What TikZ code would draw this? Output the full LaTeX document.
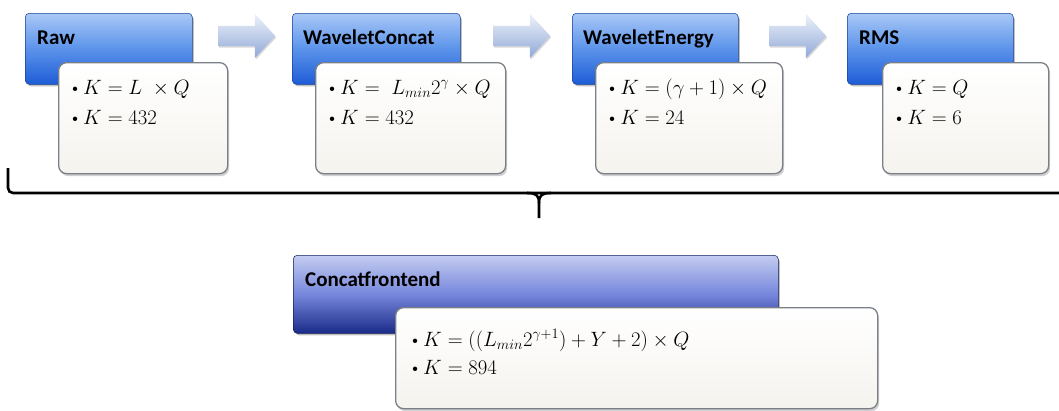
\documentclass[tikz,border=0pt]{standalone}
\usepackage{fontspec}
\newfontfamily\hdrfont{Carlito}
\usetikzlibrary{shapes.arrows,shadows,calc}
\definecolor{htop}{HTML}{A9C8F6}
\definecolor{hmid}{HTML}{5B93EA}
\definecolor{hbot}{HTML}{1E5CD6}
\definecolor{ctop}{HTML}{C3CCF0}
\definecolor{cmid}{HTML}{7687DC}
\definecolor{cbot}{HTML}{1A2A88}
\definecolor{boxedge}{HTML}{7B8088}
\definecolor{boxbot}{HTML}{F5F3EE}
\definecolor{atop}{HTML}{EEF2FA}
\definecolor{abot}{HTML}{8FA8D8}
\tikzset{
  hdr/.style={rectangle, rounded corners=4pt, anchor=north west, inner sep=0pt,
    top color=htop, bottom color=hbot, middle color=hmid, draw=hbot!70!black, line width=0.5pt,
    drop shadow={shadow xshift=1.5pt, shadow yshift=-2pt, opacity=0.35, fill=black!70}},
  chdr/.style={hdr, top color=ctop, bottom color=cbot, middle color=cmid, draw=cbot!70!black},
  bodybox/.style={rectangle, rounded corners=8pt, anchor=north west, inner sep=0pt,
    top color=white, bottom color=boxbot, draw=boxedge, line width=1.3pt,
    drop shadow={shadow xshift=1.5pt, shadow yshift=-2.5pt, opacity=0.3, fill=black!60}},
  title/.style={anchor=base west, inner sep=0pt, font=\hdrfont\bfseries\fontsize{21}{24}\selectfont},
  item/.style={anchor=base west, inner sep=0pt, font=\fontsize{19.5}{24}\selectfont},
  blockarrow/.style={single arrow, single arrow head extend=12pt, single arrow tip angle=95,
    minimum height=57pt, inner sep=10pt, top color=atop, bottom color=abot, draw=none,
    drop shadow={shadow xshift=1pt, shadow yshift=-1.5pt, opacity=0.25, fill=black!60}},
  brace/.style={draw=black, line width=2.6pt, rounded corners=5pt}
}
\newcommand{\bul}{\textbullet\kern1pt}
\begin{document}
\begin{tikzpicture}[x=1pt,y=-1pt]
\useasboundingbox (0,0) rectangle (1059,410);
\fill[white] (0,0) rectangle (1059,410);

% headers
\node[hdr, minimum width=167pt, minimum height=71pt] (rawH) at (25,13) {};
\node[hdr, minimum width=168pt, minimum height=71pt] (wcH) at (292,13) {};
\node[hdr, minimum width=166pt, minimum height=71pt] (weH) at (572,13) {};
\node[hdr, minimum width=166pt, minimum height=71pt] (rmsH) at (847,13) {};
\node[chdr, minimum width=485pt, minimum height=78pt] (cfH) at (293,255) {};

% titles
\node[title] (rawT) at ($(rawH.north west)+(12,31)$) {Raw};
\node[title] (wcT) at ($(wcH.north west)+(11,31)$) {WaveletConcat};
\node[title] (weT) at ($(weH.north west)+(11,31)$) {WaveletEnergy};
\node[title] (rmsT) at ($(rmsH.north west)+(12,31)$) {RMS};
\node[title] (cfT) at ($(cfH.north west)+(12,31)$) {Concatfrontend};

% bodies
\node[bodybox, minimum width=169pt, minimum height=111pt] (rawB) at (58,62) {};
\node[bodybox, minimum width=190pt, minimum height=111pt] (wcB) at (315,62) {};
\node[bodybox, minimum width=187pt, minimum height=111pt] (weB) at (595,62) {};
\node[bodybox, minimum width=166pt, minimum height=111pt] (rmsB) at (882,62) {};
\node[bodybox, minimum width=482pt, minimum height=101pt] (cfB) at (395,307) {};

% body text
\node[item] (raw1) at ($(rawB.north west)+(10,32)$) {\bul$K = L\ \times Q$};
\node[item] (raw2) at ($(rawB.north west)+(10,62)$) {\bul$K = 432$};
\node[item] (wc1) at ($(wcB.north west)+(10,32)$) {\bul$K = \ L_{min}2^{\gamma} \times Q$};
\node[item] (wc2) at ($(wcB.north west)+(10,62)$) {\bul$K = 432$};
\node[item] (we1) at ($(weB.north west)+(10,32)$) {\bul$K = (\gamma + 1) \times Q$};
\node[item] (we2) at ($(weB.north west)+(10,62)$) {\bul$K = 24$};
\node[item] (rms1) at ($(rmsB.north west)+(10,32)$) {\bul$K = Q$};
\node[item] (rms2) at ($(rmsB.north west)+(10,62)$) {\bul$K = 6$};
\node[item] (cf1) at ($(cfB.north west)+(13,39)$) {\bul$K = ((L_{min}2^{\gamma+1}) + Y + 2) \times Q$};
\node[item] (cf2) at ($(cfB.north west)+(13,67)$) {\bul$K = 894$};

% block arrows
\node[blockarrow] (a1) at (242,36) {};
\node[blockarrow] (a2) at (517,36) {};
\node[blockarrow] (a3) at (793,36) {};

% brace
\coordinate (bl) at (8,168);
\coordinate (br) at (1059,193);
\coordinate (bm) at (539,218);
\draw[brace] (bl) -- (8,193) -- (br);
\draw[line width=2.6pt] (527,193) .. controls (536,193) and (539,195) .. (539,203) -- (bm);
\draw[line width=2.6pt] (551,193) .. controls (542,193) and (539,195) .. (539,203);
\end{tikzpicture}
\end{document}
